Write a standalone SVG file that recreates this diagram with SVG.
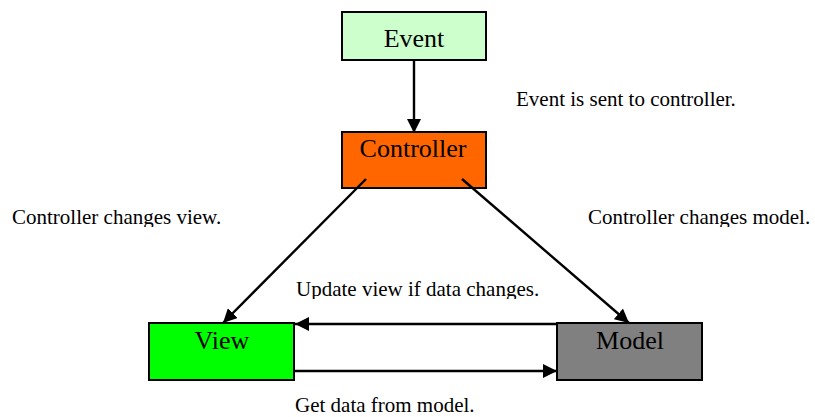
<svg xmlns="http://www.w3.org/2000/svg" width="815" height="417" viewBox="0 0 815 417">
  <defs>
    <style>
      .box { stroke: #000; stroke-width: 2; }
      .name { font-family: "Liberation Serif", "Times New Roman", serif; font-size: 26px; fill: #000; text-anchor: middle; }
      .note { font-family: "Liberation Serif", "Times New Roman", serif; font-size: 21px; fill: #000; }
      .link { stroke: #000; stroke-width: 2.4; fill: none; marker-end: url(#head); }
    </style>
    <marker id="head" viewBox="0 0 14 14" refX="14" refY="7" markerWidth="14" markerHeight="14" markerUnits="userSpaceOnUse" orient="auto">
      <path d="M0,0 L14,7 L0,14 Z" fill="#000"/>
    </marker>
    <!-- the side notes are cut just below their baseline -->
    <clipPath id="cutMid"><rect x="0" y="190" width="815" height="37"/></clipPath>
    <clipPath id="cutLow"><rect x="0" y="270" width="815" height="29"/></clipPath>
  </defs>

  <rect width="815" height="417" fill="#fff"/>

  <g id="event">
    <rect class="box" x="342" y="12" width="144" height="48" fill="#ccffcc"/>
    <text class="name" x="414" y="47">Event</text>
  </g>

  <g id="controller">
    <rect class="box" x="342" y="132" width="144" height="56" fill="#ff6600"/>
    <text class="name" x="413" y="157">Controller</text>
  </g>

  <g id="view">
    <rect class="box" x="149" y="323" width="145" height="57" fill="#00ff00"/>
    <text class="name" x="222" y="349">View</text>
  </g>

  <g id="model">
    <rect class="box" x="557" y="323" width="145" height="57" fill="#808080"/>
    <text class="name" x="630" y="349">Model</text>
  </g>

  <!-- drawn over the boxes: the controller links start inside it -->
  <g id="connectors">
    <line class="link" x1="414" y1="60" x2="414" y2="133"/>
    <line class="link" x1="366" y1="179" x2="223" y2="323"/>
    <line class="link" x1="462" y1="179" x2="629" y2="323"/>
    <line class="link" x1="557" y1="324" x2="295" y2="324"/>
    <line class="link" x1="294" y1="371" x2="557" y2="371"/>
  </g>

  <g id="notes">
    <text class="note" x="516" y="106">Event is sent to controller.</text>
    <text class="note" x="12" y="224" clip-path="url(#cutMid)">Controller changes view.</text>
    <text class="note" x="588" y="224" clip-path="url(#cutMid)">Controller changes model.</text>
    <text class="note" x="296" y="296" clip-path="url(#cutLow)">Update view if data changes.</text>
    <text class="note" x="295" y="412">Get data from model.</text>
  </g>
</svg>
